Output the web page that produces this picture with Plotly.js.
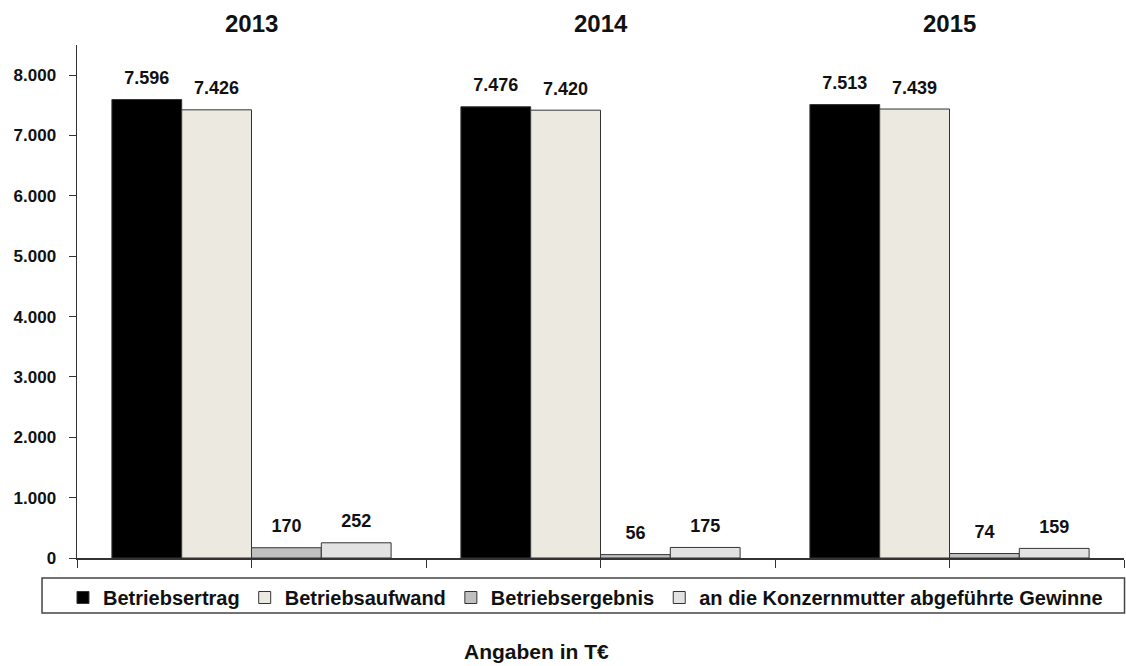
<!DOCTYPE html>
<html>
<head>
<meta charset="utf-8">
<script src="https://cdn.plot.ly/plotly-3.0.1.min.js"></script>
<style>
  html, body { margin: 0; padding: 0; background: #fff; }
  #chart { width: 1126px; height: 666px; }
</style>
</head>
<body>
<div id="chart"></div>
<script>
const years = ['2013', '2014', '2015']
const betriebsertrag  = [7596, 7476, 7513]
const betriebsaufwand = [7426, 7420, 7439]
const betriebsergebnis = [170, 56, 74]
const gewinne = [252, 175, 159]

const seriesNames  = ['Betriebsertrag', 'Betriebsaufwand', 'Betriebsergebnis', 'an die Konzernmutter abgeführte Gewinne']
const seriesValues = [betriebsertrag, betriebsaufwand, betriebsergebnis, gewinne]
const seriesColors = ['#000000', '#ECEAE0', '#C0C0C0', '#E2E2E2']

const font = { family: 'Liberation Sans, Arial, sans-serif', color: '#111' }

const bars = seriesValues.map((vals, i) => ({
    type: 'bar',
    x: years,
    y: vals,
    name: seriesNames[i],
    marker: { color: seriesColors[i], line: { color: '#333333', width: 1 } },
    hoverinfo: 'skip'
}))

// value labels: grouped scatter traces so they sit over the bars,
// invisible marker pushes the text a little above the bar top
const labels = seriesValues.map((vals, i) => ({
    type: 'scatter',
    mode: 'markers+text',
    x: years,
    y: vals,
    text: vals.map(v => '<b>' + v.toLocaleString('de-DE') + '</b>'),
    textposition: 'top center',
    textfont: { family: font.family, size: 18, color: '#111' },
    marker: { size: 16, opacity: 0 },
    showlegend: false,
    cliponaxis: false,
    hoverinfo: 'skip'
}))

const yearLabels = years.map(y => ({
    x: y, xref: 'x',
    y: 1, yref: 'paper',
    yanchor: 'middle', yshift: 22,
    text: '<b>' + y + '</b>',
    showarrow: false,
    font: { family: font.family, size: 24, color: '#111' }
}))

const layout = {
    width: 1126,
    height: 666,
    margin: { l: 77, r: 2, t: 45, b: 108 },
    paper_bgcolor: '#fff',
    plot_bgcolor: '#fff',
    separators: ',.',
    font: font,
    barmode: 'group',
    bargap: 0.2,
    bargroupgap: 0,
    scattermode: 'group',
    scattergap: 0.2,
    showlegend: true,
    legend: {
        orientation: 'h',
        x: -0.0134, xanchor: 'left',
        y: -0.039, yanchor: 'top',
        borderwidth: 0,
        bgcolor: 'rgba(0,0,0,0)',
        font: { family: font.family, size: 20, color: '#111', weight: 'bold' },
        itemwidth: 30,
        traceorder: 'normal'
    },
    shapes: [{
        type: 'rect', xref: 'paper', yref: 'paper',
        x0: -0.0334, x1: 1.0005,
        y0: -0.039, y1: -0.107,
        line: { color: '#444', width: 1.5 },
        fillcolor: 'rgba(0,0,0,0)',
        layer: 'below'
    }],
    xaxis: {
        showline: true,
        linecolor: '#333',
        linewidth: 1.5,
        ticks: 'outside',
        tickson: 'boundaries',
        ticklen: 8,
        tickcolor: '#333',
        showticklabels: false,
        showgrid: false,
        zeroline: false,
        fixedrange: true
    },
    yaxis: {
        range: [0, 8500],
        tickvals: [0, 1000, 2000, 3000, 4000, 5000, 6000, 7000, 8000],
        tickformat: ',d',
        showline: true,
        linecolor: '#333',
        linewidth: 1.5,
        ticks: 'outside',
        ticklen: 7,
        tickcolor: '#333',
        ticklabelstandoff: 9,
        tickfont: { family: font.family, size: 17, color: '#111', weight: 'bold' },
        showgrid: false,
        zeroline: false,
        fixedrange: true
    },
    annotations: [
        ...yearLabels,
        {
            x: 0.4385, xref: 'paper', xanchor: 'center',
            y: -0.183, yref: 'paper', yanchor: 'middle',
            text: '<b>Angaben in T€</b>',
            showarrow: false,
            font: { family: font.family, size: 21, color: '#111' }
        }
    ]
}

Plotly.newPlot('chart', [...bars, ...labels], layout, { displayModeBar: false, staticPlot: true })
</script>
</body>
</html>
